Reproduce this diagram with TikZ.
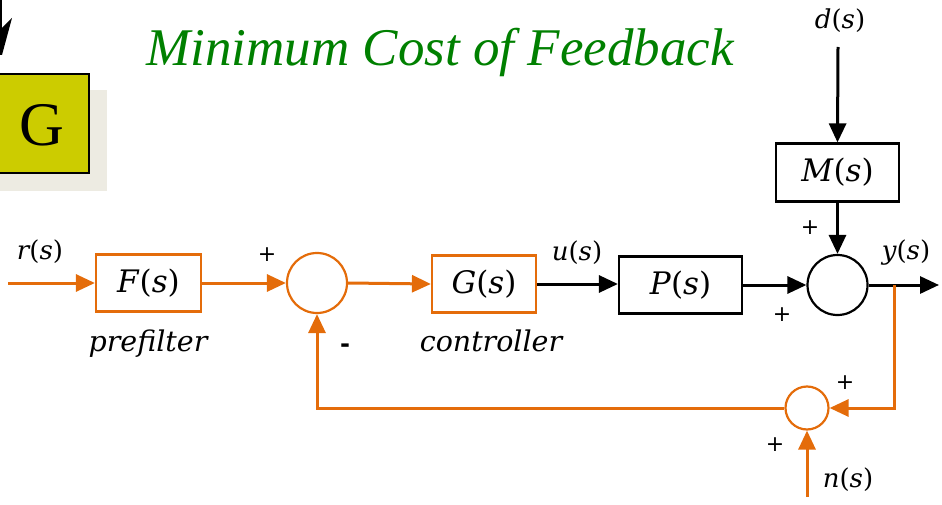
\documentclass[tikz,border=0pt]{standalone}
\usepackage{fontspec}
\setmainfont{Liberation Serif}
\newfontfamily\labelfont{DejaVu Serif}
\newfontfamily\signfont{DejaVu Sans}
\usetikzlibrary{arrows.meta}
\definecolor{sigorange}{RGB}{228,108,10}
\definecolor{titlegreen}{RGB}{0,128,0}
\definecolor{badgefill}{RGB}{204,204,0}
\definecolor{badgeshadow}{RGB}{237,235,226}
\tikzset{
  blk/.style={draw, line width=2.2pt, minimum width=#1, minimum height=57pt,
    inner sep=0pt, font=\labelfont\fontsize{31}{34}\selectfont},
  sumpt/.style={draw, circle, line width=2.2pt, minimum size=#1, inner sep=0pt},
  sig/.style={line width=3pt, -{Triangle[length=19pt,width=17pt]}},
  lbl/.style={font=\labelfont\fontsize{26}{30}\selectfont\itshape},
  caption/.style={font=\labelfont\fontsize{28.5}{32}\selectfont\itshape},
  signlbl/.style={font=\signfont\fontsize{22}{22}\selectfont},
}
\newcommand{\tf}[1]{\textit{#1}(\textit{s})}
\begin{document}
\begin{tikzpicture}[x=1pt,y=-1pt]
\useasboundingbox (0,0) rectangle (942,505);

% corner badge with drop shadow
\fill[badgeshadow] (-20,90) rectangle (107,191);
\draw[fill=badgefill, line width=1.8pt] (-20,74) rectangle (89,173);
\node[font=\fontsize{62}{62}\selectfont] (badge) at (42,125) {G};
% tip of an incoming arrow at the top edge
\fill[black] (0,0) rectangle (1.8,30);
\fill[black] (0,30) -- (12,18) -- (2,55) -- (0,55) -- cycle;

% title
\node[text=titlegreen, font=\fontsize{53}{56}\selectfont\itshape] (title) at (440,52) {Minimum Cost of Feedback};

% blocks
\node[blk=105pt, draw=sigorange] (F) at (148.5,283) {\tf{F}};
\node[blk=104pt, draw=sigorange] (G) at (484,284) {\tf{G}};
\node[blk=123pt] (P) at (680.5,285) {\tf{P}};
\node[blk=123pt, minimum height=58pt] (M) at (837.5,172.5) {\tf{M}};

% summing junctions
\node[sumpt=60pt, draw=sigorange] (S1) at (317,283) {};
\node[sumpt=60pt] (S2) at (837.5,285) {};
\node[sumpt=43pt, draw=sigorange] (S3) at (807,408) {};

% free ends of the signals
\coordinate (rin) at (8,283);
\coordinate (din) at (838,47);
\coordinate (nin) at (807,497);
\coordinate (yout) at (939,285);
\coordinate (tap) at (894,285);

% forward path
\draw[sig, sigorange] (rin) -- (F.west);
\draw[sig, sigorange] (F.east) -- (S1.west);
\draw[sig, sigorange] (S1.east) -- (G.west);
\draw[sig] (G.east) -- (P.west |- G.east);
\draw[sig] (P.east) -- (S2.west);
\draw[sig] (din) -- (M.north);
\draw[sig] (M.south) -- (S2.north);
\draw[sig] (S2.east) -- (yout);

% measurement and feedback path
\draw[sig, sigorange] (tap) |- (S3.east);
\draw[sig, sigorange] (nin) -- (S3.south);
\draw[sig, sigorange] (S3.west) -| (S1.south);

% signal labels
\node[lbl] (r) at (40,252) {r\upshape(\itshape s\upshape)};
\node[lbl] (u) at (577,253) {u\upshape(\itshape s\upshape)};
\node[lbl] (y) at (906,253) {y\upshape(\itshape s\upshape)};
\node[lbl] (d) at (840,21) {d\upshape(\itshape s\upshape)};
\node[lbl] (n) at (848,480) {n\upshape(\itshape s\upshape)};
\node[caption] (pf) at (148,344) {prefilter};
\node[caption] (ctl) at (491,341) {controller};

% signs
\node[signlbl] (p1) at (267,255) {+};
\node[signlbl, font=\signfont\bfseries\fontsize{24}{24}\selectfont] (m1) at (345,348) {-};
\node[signlbl] (p2) at (810,228) {+};
\node[signlbl] (p3) at (782,315) {+};
\node[signlbl] (p4) at (845,383) {+};
\node[signlbl] (p5) at (775,445) {+};
\end{tikzpicture}
\end{document}
